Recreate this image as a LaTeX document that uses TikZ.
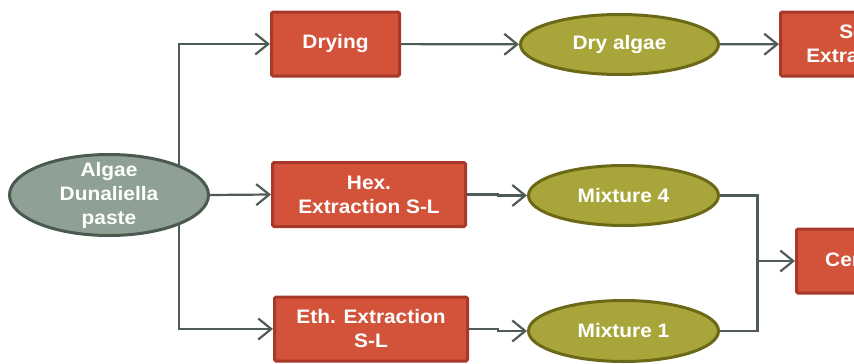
\documentclass[tikz,border=0pt]{standalone}
\usepackage{fontspec}
\setmainfont{Liberation Sans}[FakeStretch=1.07]
\usetikzlibrary{arrows.meta,shapes.geometric}
\pgfdeclarelayer{back}
\pgfsetlayers{back,main}

\definecolor{boxfill}{HTML}{D3533A}
\definecolor{boxedge}{HTML}{A8392A}
\definecolor{olivefill}{HTML}{A8A63A}
\definecolor{oliveedge}{HTML}{6B6818}
\definecolor{pastefill}{HTML}{8FA094}
\definecolor{pasteedge}{HTML}{4A5A50}
\definecolor{wire}{HTML}{4F5B57}

\tikzset{
  txt/.style={text=white, font=\bfseries\fontsize{19.5}{24}\selectfont, align=center, inner sep=0pt},
  stepbox/.style={rectangle, fill=boxfill, draw=boxedge, line width=3pt, rounded corners=1.5pt,
    minimum height=64pt, inner sep=0pt, txt},
  product/.style={ellipse, fill=olivefill, draw=oliveedge, line width=3pt, inner sep=0pt},
  feed/.style={ellipse, fill=pastefill, draw=pasteedge, line width=3pt, inner sep=0pt},
  wireline/.style={draw=wire, line width=2.2pt},
  conn/.style={wireline, -{Straight Barb[length=13pt,width=21pt,line width=2.2pt]}},
}

\begin{document}
\begin{tikzpicture}[x=1pt,y=1pt]
  \useasboundingbox (0,0) rectangle (854,-364);
  \clip (0,0) rectangle (854,-364);

  % feed material
  \node[feed, minimum width=199pt, minimum height=81pt,
        label={[txt]center:Algae\\Dunaliella\\paste}] (paste) at (109,-195) {};

  % processing steps
  \node[stepbox, minimum width=128pt] (drying) at (335.5,-44) {Drying};
  \node[stepbox, minimum width=193pt] (hex) at (369,-194.5) {Hex.\\Extraction S-L};
  \node[stepbox, minimum width=193pt] (eth) at (371,-329) {Eth. Extraction\\S-L};
  \node[stepbox, minimum width=193pt] (sox) at (877,-44) {Soxhlet\\Extraction S-L};
  \node[stepbox, minimum width=200pt] (cen) at (896.5,-261) {Centrifugation};

  % intermediate products
  \node[product, minimum width=198pt, minimum height=60pt,
        label={[txt]center:Dry algae}] (dryalgae) at (619.5,-44.5) {};
  \node[product, minimum width=190pt, minimum height=60pt,
        label={[txt]center:Mixture 4}] (mix4) at (623.5,-195.5) {};
  \node[product, minimum width=190pt, minimum height=61pt,
        label={[txt]center:Mixture 1}] (mix1) at (623.5,-331) {};

  \coordinate (split) at (179,-195);
  \coordinate (join) at (757.5,-261);

  \begin{pgfonlayer}{back}
    \draw[conn] (split) |- (drying.west);
    \draw[conn] (split) |- (eth.west);
  \end{pgfonlayer}
  \draw[conn] (paste.east) -- (hex.west);
  \draw[conn] (drying) -- (dryalgae);
  \draw[conn] (dryalgae) -- (sox);
  \draw[conn] (hex.east) -- ++(31,0) |- (mix4.west);
  \draw[conn] (eth.east) -- ++(29,0) |- (mix1.west);
  \draw[wireline] (mix4.east) -| (join) |- (mix1.east);
  \draw[conn] (join) -- (cen.west);
\end{tikzpicture}
\end{document}
